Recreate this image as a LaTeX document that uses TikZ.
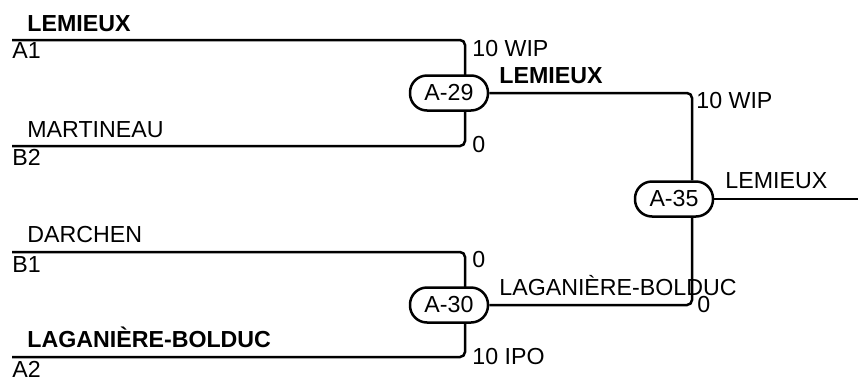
\documentclass[tikz,border=0pt]{standalone}
\usepackage{fontspec}
\setmainfont{Liberation Sans}
\usetikzlibrary{positioning}
\tikzset{
  bline/.style={line width=1.25pt, rounded corners=2.5pt},
  match/.style={
    draw, line width=1.25pt, fill=white,
    rounded corners=8.5pt, inner sep=0pt,
    minimum width=39pt, minimum height=17.5pt,
    font=\fontsize{11.6}{13}\selectfont
  },
  lbl/.style ={anchor=base west, inner sep=0pt, font=\fontsize{11.6}{13}\selectfont},
  blbl/.style={lbl, font=\fontsize{11.6}{13}\selectfont\bfseries}
}
\begin{document}
\begin{tikzpicture}[x=0.5pt, y=-0.5pt]
  \useasboundingbox (0,0) rectangle (858,376);
  % entry lines and column joints
  \coordinate (A1) at (12,40);   \coordinate (B2) at (12,146);
  \coordinate (B1) at (12,252);  \coordinate (A2) at (12,357);
  \coordinate (j29) at (465,93); \coordinate (j30) at (465,305);
  \coordinate (j35) at (692,199); \coordinate (out) at (858,199);
  \draw[bline] (A1) -| (j29);  \draw[bline] (B2) -| (j29);
  \draw[bline] (B1) -| (j30);  \draw[bline] (A2) -| (j30);
  % matches
  \node[match] (m29) at (449,93)  {A-29};
  \node[match] (m30) at (449,305) {A-30};
  \node[match] (m35) at (674,199) {A-35};
  \draw[bline] (m29.east) -| (j35 |- m35.north);
  \draw[bline] (m30.east) -| (j35 |- m35.south);
  \draw[bline] (m35.east) -- (out);
  % names and seeds
  \node[blbl] (nA1) at (27,31)  {LEMIEUX};
  \node[lbl]  (sA1) at (12,58)  {A1};
  \node[lbl]  (nB2) at (27,137) {MARTINEAU};
  \node[lbl]  (sB2) at (12,165) {B2};
  \node[lbl]  (nB1) at (27,242) {DARCHEN};
  \node[lbl]  (sB1) at (12,272) {B1};
  \node[blbl] (nA2) at (27,347) {LAGANIÈRE-BOLDUC};
  \node[lbl]  (sA2) at (12,377) {A2};
  % scores and winners
  \node[lbl]  (s29a) at (472,56)  {10 WIP};
  \node[lbl]  (s29b) at (472,152) {0};
  \node[blbl] (w29)  at (499,83)  {LEMIEUX};
  \node[lbl]  (s30a) at (472,267) {0};
  \node[lbl]  (s30b) at (472,364) {10 IPO};
  \node[lbl]  (w30)  at (499,295) {LAGANIÈRE-BOLDUC};
  \node[lbl]  (s35a) at (696,108) {10 WIP};
  \node[lbl]  (s35b) at (697,312) {0};
  \node[lbl]  (w35)  at (725,188) {LEMIEUX};
\end{tikzpicture}
\end{document}
